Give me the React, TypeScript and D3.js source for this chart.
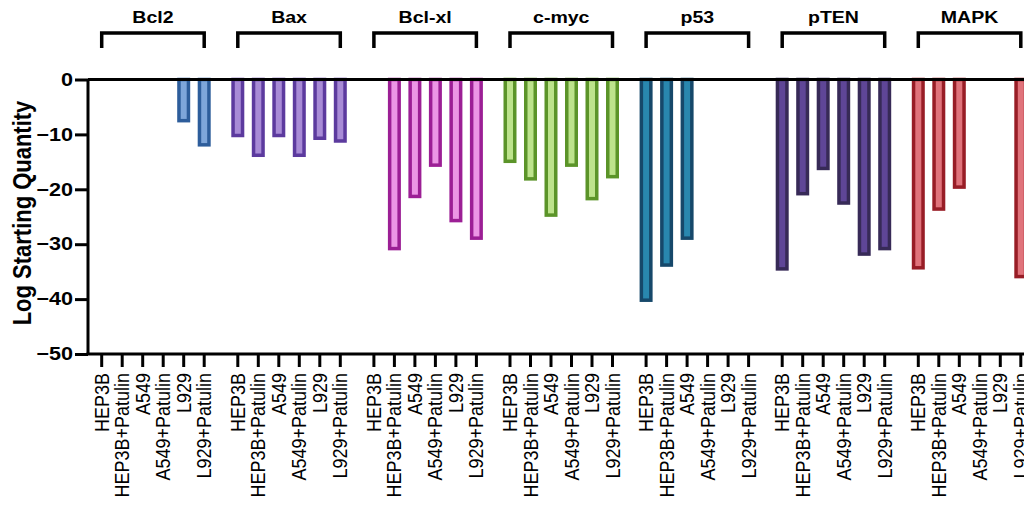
import React, { useEffect, useRef } from 'react';
import * as d3 from 'd3';

// genes (groups) and cell lines (bars inside each group)
const genes = ['Bcl2', 'Bax', 'Bcl-xl', 'c-myc', 'p53', 'pTEN', 'MAPK'];
const conditions = ['HEP3B', 'HEP3B+Patulin', 'A549', 'A549+Patulin', 'L929', 'L929+Patulin'];

// log starting quantity, null = no bar
const bcl2 = [null, null, null, null, -7.5, -11.9];
const bax = [-10.2, -13.8, -10.2, -13.8, -10.7, -11.2];
const bclxl = [null, -30.8, -21.3, -15.6, -25.7, -28.9];
const cmyc = [-14.9, -18.1, -24.7, -15.6, -21.7, -17.7];
const p53 = [-40.2, -33.8, -28.9, null, null, null];
const pten = [-34.5, -20.8, -16.2, -22.5, -31.8, -30.8];
const mapk = [-34.3, -23.6, -19.6, null, null, -35.9];

const yTicks = [0, -10, -20, -30, -40, -50];

const strokeColors = ['#2d5d9b', '#5c3a9e', '#9c1f95', '#5b9429', '#16486a', '#372a57', '#981d26'];
const fillColors = ['#7ea6da', '#a88bd6', '#ec96e5', '#bde38c', '#2987ae', '#5f4697', '#e0737b'];

export default function App() {
    const ref = useRef<SVGSVGElement>(null);
    const width = 1024;
    const height = 509;
    const font = 'Liberation Sans, Arial, Helvetica, sans-serif';

    useEffect(() => {
        const svg = d3.select(ref.current);
        svg.selectAll('*').remove();

        const series = [bcl2, bax, bclxl, cmyc, p53, pten, mapk];
        const rows = [];
        genes.forEach((g, gi) => {
            conditions.forEach((c, ci) => {
                rows.push({ gene: g, gi: gi, cond: c, value: series[gi][ci] });
            });
        });

        const axisX = 88;
        const groupStep = 136.1;
        const barStep = 20.5;
        const x0 = 101.7 - barStep / 2;

        const outer = d3.scaleBand()
            .domain(genes)
            .range([x0, x0 + groupStep * genes.length]);
        const inner = d3.scaleBand()
            .domain(conditions)
            .range([0, barStep * conditions.length]);
        const cx = (g, c) => outer(g) + inner(c) + inner.bandwidth() / 2;

        const yScale = d3.scaleLinear()
            .domain([-50, 0])
            .range([354, 79.5]);

        // bars
        const barW = 9.5;
        svg.append('g')
            .selectAll('rect')
            .data(rows.filter(d => d.value !== null))
            .enter().append('rect')
            .attr('x', d => cx(d.gene, d.cond) - barW / 2)
            .attr('y', yScale(0))
            .attr('width', barW)
            .attr('height', d => yScale(d.value) - yScale(0))
            .attr('fill', d => fillColors[d.gi])
            .attr('stroke', d => strokeColors[d.gi])
            .attr('stroke-width', 3.5);

        // zero line
        svg.append('line')
            .attr('x1', axisX).attr('x2', width)
            .attr('y1', yScale(0)).attr('y2', yScale(0))
            .attr('stroke', '#000').attr('stroke-width', 3);

        // y axis
        const yAxis = d3.axisLeft(yScale)
            .tickValues(yTicks)
            .tickSize(13)
            .tickPadding(3)
            .tickFormat(d3.format('d'));
        const gy = svg.append('g')
            .attr('transform', 'translate(' + axisX + ',0)')
            .call(yAxis);
        gy.select('.domain').attr('stroke-width', 3).attr('d', 'M0,' + yScale(0) + 'V' + yScale(-50));
        gy.selectAll('.tick line').attr('stroke-width', 3);
        gy.selectAll('.tick text')
            .attr('x', 0)
            .attr('transform', 'translate(-15,0) scale(1.2,1)')
            .attr('font-family', font)
            .attr('font-size', 18)
            .attr('font-weight', 'bold')
            .attr('fill', '#000');

        // x axis
        svg.append('line')
            .attr('x1', axisX - 1.5).attr('x2', width)
            .attr('y1', yScale(-50)).attr('y2', yScale(-50))
            .attr('stroke', '#000').attr('stroke-width', 3);
        const xt = svg.append('g')
            .selectAll('g')
            .data(rows)
            .enter().append('g')
            .attr('transform', d => 'translate(' + cx(d.gene, d.cond) + ',' + yScale(-50) + ')');
        xt.append('line')
            .attr('y1', 0).attr('y2', 13)
            .attr('stroke', '#000').attr('stroke-width', 3);
        xt.append('text')
            .attr('transform', 'translate(7,19) rotate(-90) scale(1,1.15)')
            .attr('text-anchor', 'end')
            .attr('font-family', font)
            .attr('font-size', 18)
            .attr('fill', '#000')
            .text(d => d.cond);

        // group brackets
        const br = svg.append('g')
            .selectAll('g')
            .data(genes)
            .enter().append('g');
        br.append('path')
            .attr('d', g => {
                const a = cx(g, conditions[0]);
                const b = cx(g, conditions[conditions.length - 1]);
                return 'M' + a + ',48V33H' + b + 'V48';
            })
            .attr('fill', 'none')
            .attr('stroke', '#000')
            .attr('stroke-width', 3.5);
        br.append('text')
            .attr('transform', g => 'translate(' + (cx(g, conditions[0]) + cx(g, conditions[conditions.length - 1])) / 2 + ',23) scale(1.15,1)')
            .attr('text-anchor', 'middle')
            .attr('font-family', font)
            .attr('font-size', 17)
            .attr('font-weight', 'bold')
            .text(g => g);

        // y axis label
        svg.append('text')
            .attr('transform', 'translate(31,' + 213 + ') rotate(-90) scale(1,1.15)')
            .attr('text-anchor', 'middle')
            .attr('font-family', font)
            .attr('font-size', 22)
            .attr('font-weight', 'bold')
            .text('Log Starting Quantity');
    }, []);

    return (
        <svg
            ref={ref}
            width={width}
            height={height}
            style={{ position: 'absolute', left: 0, top: 0, background: '#fff' }}
        />
    );
}
